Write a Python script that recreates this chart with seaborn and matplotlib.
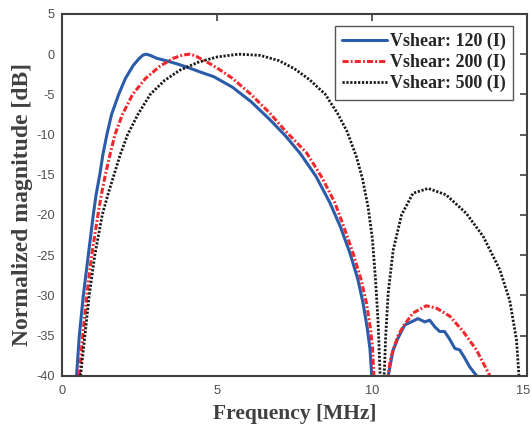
import numpy as np
import pandas as pd
import matplotlib
matplotlib.use("Agg")
import matplotlib.pyplot as plt
import matplotlib.transforms as mtransforms
import seaborn as sns

# ─── Data ───────────────────────────────────────────────────────────────────
freq_120 = [0.47, 0.56, 0.69, 0.85, 1.01, 1.10, 1.22, 1.32, 1.45, 1.60, 1.83, 2.05, 2.30,
            2.50, 2.62, 2.72,
            2.85, 3.05, 3.40, 3.75, 4.10, 4.45, 4.90, 5.50, 6.10, 6.70, 7.20, 7.70, 8.20,
            8.65, 9.00, 9.30, 9.55, 9.72, 9.85, 9.94, 10.00, 10.27,
            10.53, 10.69, 10.85, 11.06, 11.28, 11.49, 11.71, 11.87, 12.03, 12.19, 12.35,
            12.52, 12.68, 12.84, 13.00, 13.16, 13.38]
mag_120 = [-40, -35, -30, -25, -20, -17.5, -15, -12.5, -10, -7.5, -5, -3.0, -1.4,
           -0.5, -0.1, 0.0,
           -0.15, -0.5, -0.85, -1.25, -1.7, -2.2, -2.8, -4.1, -5.9, -8.1, -10.1, -12.4, -15.2,
           -18.5, -21.6, -24.8, -28.0, -31.0, -34.0, -36.6, -40, -60,
           -40, -36.8, -35.3, -33.7, -33.3, -32.9, -33.3, -33.1, -33.9, -34.5, -34.5,
           -35.5, -36.6, -36.8, -37.8, -38.9, -40]

freq_200 = [0.56, 0.67, 0.80, 0.96, 1.16, 1.27, 1.40, 1.55, 1.71, 1.95, 2.28, 2.70, 3.16,
            3.60, 3.90, 4.13,
            4.30, 4.60, 5.00, 5.50, 6.10, 6.70, 7.20, 7.90, 8.40, 8.81, 9.10, 9.40, 9.65,
            9.83, 9.95, 10.02, 10.07, 10.30,
            10.53, 10.60, 10.69, 10.85, 11.01, 11.33, 11.76, 12.09, 12.52, 12.95, 13.38, 13.81]
mag_200 = [-40, -35, -30, -25, -20, -17.5, -15, -12.5, -10, -7.5, -5, -3.0, -1.5,
           -0.5, -0.1, 0.0,
           -0.2, -0.8, -1.7, -3.0, -5.0, -7.3, -9.5, -12.3, -15.4, -18.5, -21.5, -24.8, -28.0,
           -31.0, -34.0, -36.4, -40, -60,
           -40, -38.0, -36.8, -35.0, -33.9, -32.2, -31.3, -31.6, -32.6, -34.5, -36.8, -40]

freq_500 = [0.60, 0.74, 0.88, 1.06, 1.30, 1.48, 1.68, 1.88, 2.12, 2.45, 2.85, 3.30, 3.80,
            4.40, 5.00, 5.70,
            6.40, 7.00, 7.50, 8.00, 8.50, 8.90, 9.20, 9.50, 9.70, 9.88, 10.02, 10.12, 10.20,
            10.27, 10.34,
            10.40, 10.45, 10.53, 10.69, 10.96, 11.33, 11.82, 12.40, 13.05, 13.60, 14.13, 14.45,
            14.67, 14.75]
mag_500 = [-40, -35, -30, -25, -20, -17.5, -15, -12.5, -10, -7.5, -5, -3.3, -2.0,
           -1.0, -0.35, 0.0,
           -0.15, -0.8, -1.8, -3.2, -5.0, -7.4, -9.6, -12.7, -15.5, -19.0, -23.0, -28.0, -33.0,
           -40, -60,
           -40, -35, -29.7, -24.4, -20.0, -17.3, -16.7, -17.5, -19.8, -22.7, -26.8, -30.6,
           -35.5, -40]

labels = ["Vshear: 120 (I)", "Vshear: 200 (I)", "Vshear: 500 (I)"]
x_ticks = [0, 5, 10, 15]
y_ticks = [5, 0, -5, -10, -15, -20, -25, -30, -35, -40]

# ─── Style ──────────────────────────────────────────────────────────────────
sns.set_style("white")
AX_COL = "#404040"
plt.rcParams.update({
    "font.family": ["Liberation Sans", "DejaVu Sans"],
    "axes.unicode_minus": False,
    "xtick.direction": "in",
    "ytick.direction": "in",
    "axes.edgecolor": AX_COL,
    "axes.linewidth": 1.5,
})

series = [
    (freq_120, mag_120, "#2A5CAA", "-", 2.2),
    (freq_200, mag_200, "#EE2A2E", (0, (2.0, 0.7, 0.6, 0.7)), 2.2),
    (freq_500, mag_500, "#1A1A1A", (0, (0.8, 0.6)), 2.0),
]

fig = plt.figure(figsize=(5.32, 4.28), dpi=100)
ax = fig.add_axes([0.1165, 0.1222, 0.8735, 0.8451])

for (fx, my, col, ls, lw), lab in zip(series, labels):
    df = pd.DataFrame({"f": fx, "m": my})
    sns.lineplot(data=df, x="f", y="m", sort=False, ax=ax, color=col,
                 linestyle=ls, linewidth=lw, label=lab)

ax.set_xlim(0, 15)
ax.set_ylim(-40, 5)
ax.set_xticks(x_ticks)
ax.set_yticks(y_ticks)
ax.tick_params(axis="both", which="both", top=True, right=True, length=5,
               width=1.2, color=AX_COL, labelcolor="#4D4D4D", labelsize=9.2)
ax.tick_params(axis="x", pad=7)
ax.tick_params(axis="y", pad=5)
for sp in ax.spines.values():
    sp.set_visible(True)
    sp.set_color(AX_COL)

# nudge the last x tick label so it stays inside the canvas
last = ax.get_xticklabels()[-1]
last.set_transform(last.get_transform() +
                   mtransforms.ScaledTranslation(-4 / 100, 0, fig.dpi_scale_trans))

ax.set_xlabel("Frequency [MHz]", family=["Liberation Serif"], weight="bold",
              size=15.5, color=AX_COL)
ax.set_ylabel("Normalized magnitude [dB]", family=["Liberation Serif"], weight="bold",
              size=17, color=AX_COL)
ax.xaxis.set_label_coords(0.5, -0.079)
ax.yaxis.set_label_coords(-0.062, 0.472)

leg = ax.legend(loc="upper right", bbox_to_anchor=(0.970, 0.967), borderaxespad=0,
                handlelength=2.5, handletextpad=0.13, borderpad=0.4,
                labelspacing=0.2, fancybox=False, framealpha=1,
                prop={"family": "Liberation Serif", "weight": "bold", "size": 13})
leg.get_frame().set_edgecolor("#555555")
leg.get_frame().set_linewidth(1.0)
for t in leg.get_texts():
    t.set_color("#262626")

fig.savefig("out.png", dpi=100)
